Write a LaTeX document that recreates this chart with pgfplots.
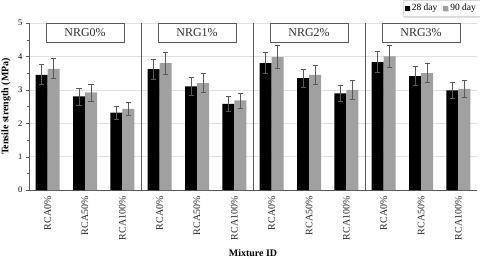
\documentclass[border=0pt]{standalone}
\usepackage{pgfplots}
\pgfplotsset{compat=1.18}
\usepackage{fontspec}
\setmainfont{Liberation Serif}
\usetikzlibrary{shadows}
\definecolor{barGray}{RGB}{160,160,160}
\definecolor{axGray}{RGB}{90,90,90}
\tikzset{panellabel/.style={draw=axGray, line width=0.8pt, fill=white, anchor=north, minimum width=78bp, minimum height=19bp,
    font=\fontsize{12}{12}\selectfont, text=black!80, inner sep=0pt}}
\begin{document}
\begin{tikzpicture}
\useasboundingbox (-29bp,-70bp) rectangle (451bp,190bp);
\begin{axis}[
  scale only axis,
  width=448bp, height=167bp,
  ymin=0, ymax=5,
  xmin=-0.5, xmax=11.5,
  ytick={0,1,2,3,4,5},
  minor y tick num=1,
  xtick={0,...,11},
  xticklabels={RCA0\%,RCA50\%,RCA100\%,RCA0\%,RCA50\%,RCA100\%,RCA0\%,RCA50\%,RCA100\%,RCA0\%,RCA50\%,RCA100\%},
  x tick label style={rotate=90, anchor=east, font=\fontsize{10}{10}\selectfont, text=black!85},
  y tick label style={font=\fontsize{8.5}{8.5}\selectfont},
  /pgf/number format/assume math mode=true,
  axis x line=bottom, axis y line=left,
  axis line style={axGray, -},
  major x tick style={draw=none},
  tick align=outside,
  major tick length=3bp, minor tick length=2bp,
  tick style={axGray},
  ymajorgrids, grid style={black!12},
  ybar=0pt, bar width=12bp,
  ylabel={\bfseries Tensile strength (MPa)},
  ylabel style={font=\fontsize{10}{10}\selectfont, at={(axis description cs:-0.0513,0.5)}, anchor=center},
  xlabel={\bfseries Mixture ID},
  xlabel style={font=\fontsize{10}{10}\selectfont, at={(axis description cs:0.5,-0.377)}, anchor=center},
  legend columns=2,
  legend style={at={(rel axis cs:1.0067,1.1377)}, anchor=north east, draw=black!15, fill=white,
    font=\fontsize{9.5}{9.5}\selectfont, drop shadow={shadow xshift=1bp, shadow yshift=-1.5bp, opacity=0.25},
    /tikz/every even column/.append style={column sep=4bp}, inner sep=2bp},
  legend image code/.code={\fill[#1,draw=none] (0bp,-2.5bp) rectangle (5bp,2.5bp);},
  error bars/error bar style={axGray, line width=0.6pt},
  error bars/error mark options={rotate=90, axGray, mark size=2.5bp, line width=0.6pt},
  clip=false,
]
\addplot[fill=black, draw=none, error bars/.cd, y dir=both, y explicit] table[y error=e] {
x y e
0 3.45 0.30
1 2.80 0.25
2 2.32 0.20
3 3.62 0.30
4 3.10 0.27
5 2.58 0.22
6 3.80 0.32
7 3.35 0.27
8 2.89 0.24
9 3.83 0.32
10 3.41 0.28
11 2.98 0.24
};
\addplot[fill=barGray, draw=none, error bars/.cd, y dir=both, y explicit] table[y error=e] {
x y e
0 3.63 0.30
1 2.92 0.25
2 2.43 0.20
3 3.80 0.33
4 3.20 0.28
5 2.68 0.22
6 3.98 0.34
7 3.45 0.29
8 3.00 0.27
9 4.00 0.33
10 3.50 0.28
11 3.03 0.25
};
\legend{28 day, 90 day}
\draw[axGray, line width=0.7pt] (axis cs:2.5,0) -- (axis cs:2.5,5);
\draw[axGray, line width=0.7pt] (axis cs:5.5,0) -- (axis cs:5.5,5);
\draw[axGray, line width=0.7pt] (axis cs:8.5,0) -- (axis cs:8.5,5);
\node[panellabel] at (axis cs:1,5) {NRG0\%};
\node[panellabel] at (axis cs:4,5) {NRG1\%};
\node[panellabel] at (axis cs:7,5) {NRG2\%};
\node[panellabel] at (axis cs:10,5) {NRG3\%};
\end{axis}
\end{tikzpicture}
\end{document}
